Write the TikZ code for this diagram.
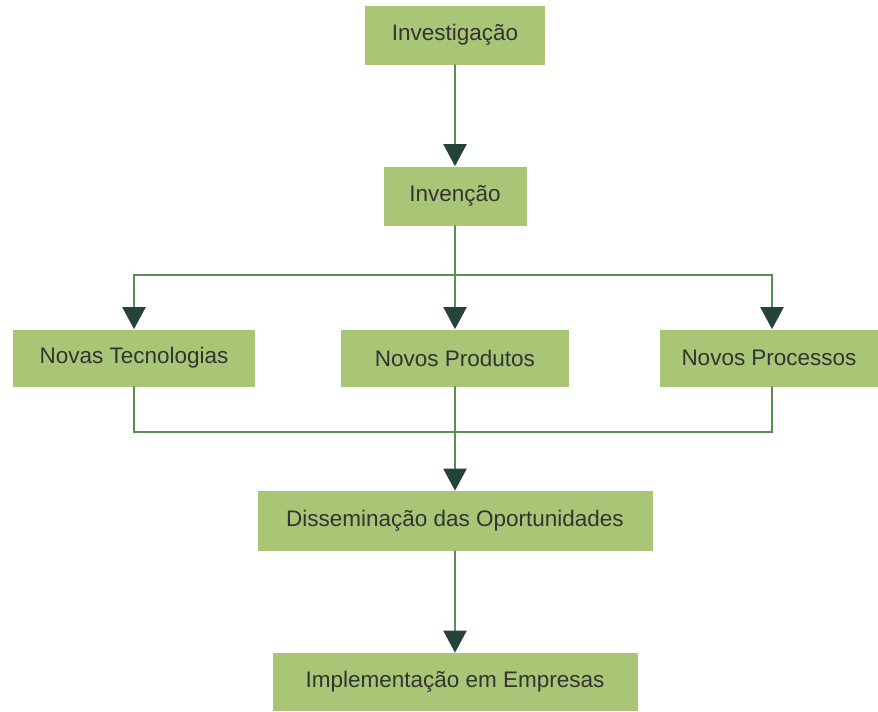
\documentclass[tikz,border=0pt]{standalone}
\usepackage{fontspec}
\setmainfont{Liberation Sans}
\usetikzlibrary{arrows.meta}

\definecolor{verdecaixa}{HTML}{A9C677}
\definecolor{verdelinha}{HTML}{5E8C58}
\definecolor{verdeseta}{HTML}{24443A}
\definecolor{textocinza}{HTML}{333333}

\begin{document}
\begin{tikzpicture}[%
        line cap = round,
        caixa/.style = {%
            fill = verdecaixa,
            draw = none,
            inner sep = 0pt,
            minimum height = 1.18cm,
            text = textocinza,
            font = \fontsize{12.8}{15}\selectfont
        },
        linha/.style = {draw = verdelinha, line width = 1.3pt},
        seta/.style = {%
            linha,
            -{Triangle[width = 0.46cm, length = 0.44cm, color = verdeseta]}
        }
    ]

        % Fix the page to the size of the reference.
        \useasboundingbox (0.0, 0.0) rectangle (17.56, -14.22);

        % The boxes, from top to bottom.
        \node[caixa, minimum width = 3.6cm] (investigacao) at (9.1, -0.7) {Investigação};
        \node[caixa, minimum width = 2.86cm] (invencao) at (9.1, -3.92) {Invenção};
        \node[caixa, minimum width = 4.84cm, minimum height = 1.14cm] (tecnologias) at (2.68, -7.16) {Novas Tecnologias};
        \node[caixa, minimum width = 4.56cm, minimum height = 1.14cm] (produtos) at (9.1, -7.16) {Novos Produtos};
        \node[caixa, minimum width = 4.36cm, minimum height = 1.14cm] (processos) at (15.38, -7.16) {Novos Processos};
        \node[caixa, minimum width = 7.9cm, minimum height = 1.2cm] (disseminacao) at (9.1, -10.42) {Disseminação das Oportunidades};
        \node[caixa, minimum width = 7.3cm, minimum height = 1.16cm] (implementacao) at (9.1, -13.64) {Implementação em Empresas};

        % Points where the lines split and join again.
        \coordinate (ramo) at (9.1, -5.5);
        \coordinate (juncao) at (9.1, -8.64);
        \coordinate (direita) at (15.44, -5.5);

        % Investigação leads to Invenção.
        \draw[seta] (investigacao) -- (invencao);

        % Invenção splits into the three results.
        \draw[linha] (invencao) -- (ramo);
        \draw[seta] (ramo) -| (tecnologias);
        \draw[seta] (ramo) -- (produtos);
        \draw[linha] (ramo) -- (direita);
        \draw[seta] (direita) -- (direita |- processos.north);

        % The three results join before Disseminação.
        \draw[linha] (tecnologias) |- (juncao) -| (direita |- processos.south);
        \draw[seta] (produtos) -- (disseminacao);

        % Disseminação leads to Implementação.
        \draw[seta] (disseminacao) -- (implementacao);
    \end{tikzpicture}
\end{document}
